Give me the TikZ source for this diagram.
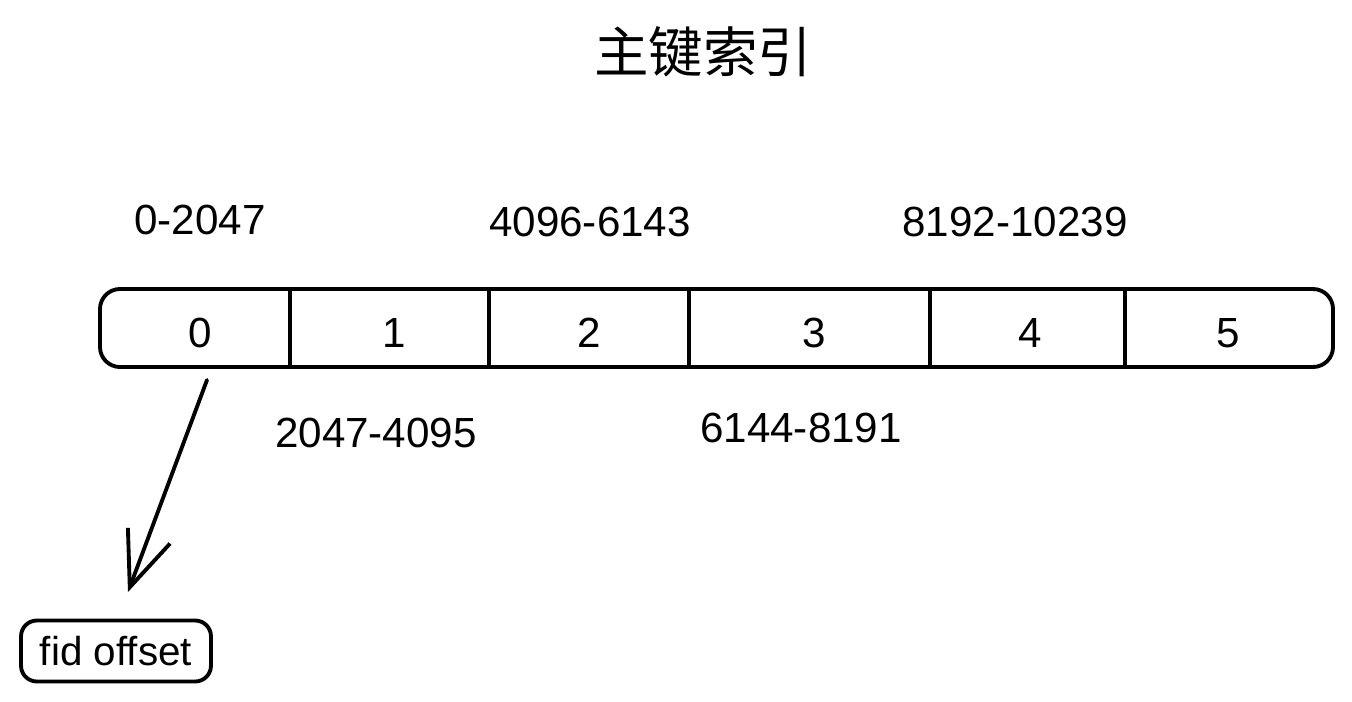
\documentclass[tikz,border=0pt]{standalone}
\usepackage{fontspec}
\setmainfont{Liberation Sans}
\newfontfamily\cjk{Noto Sans CJK SC}
\usetikzlibrary{arrows.meta,positioning}

\tikzset{
  stroke/.style={line width=2.2pt, line cap=round, line join=round},
  celltext/.style={font=\fontsize{24}{28}\selectfont},
  rangetext/.style={font=\fontsize{24}{28}\selectfont},
  tagbox/.style={stroke, draw, rounded corners=9pt, minimum width=3.8cm, minimum height=1.22cm,
    font=\fontsize{23}{27}\selectfont}
}

\begin{document}
\begin{tikzpicture}[x=0.02cm, y=-0.02cm]
  \useasboundingbox (0,0) rectangle (1352,701);

  \node[font=\cjk\fontsize{31}{36}\selectfont] (title) at (703,52) {主键索引};

  % the bar and its dividers
  \draw[stroke, rounded corners=0.4cm] (100,289) rectangle (1333,367);
  \foreach \x in {290,489,689,930,1125}
    \draw[stroke] (\x,289) -- (\x,367);

  \node[celltext] (c0) at (200,333) {0};
  \node[celltext] (c1) at (394,333) {1};
  \node[celltext] (c2) at (589,333) {2};
  \node[celltext] (c3) at (814,333) {3};
  \node[celltext] (c4) at (1030,333) {4};
  \node[celltext] (c5) at (1228,333) {5};

  % ranges above and below
  \node[rangetext] (r0) at (200,220) {0-2047};
  \node[rangetext] (r2) at (590,222) {4096-6143};
  \node[rangetext] (r4) at (1015,222) {8192-10239};
  \node[rangetext] (r1) at (376,433) {2047-4095};
  \node[rangetext] (r3) at (801,428) {6144-8191};

  \node[tagbox] (fid) at (116,651) {fid offset};

  \coordinate (tail) at (207,380);
  \coordinate (head) at (128,592);
  \draw[stroke, -{Straight Barb[length=1.1cm, width=0.9cm, line width=2.2pt]}] (tail) -- (head);
\end{tikzpicture}
\end{document}
